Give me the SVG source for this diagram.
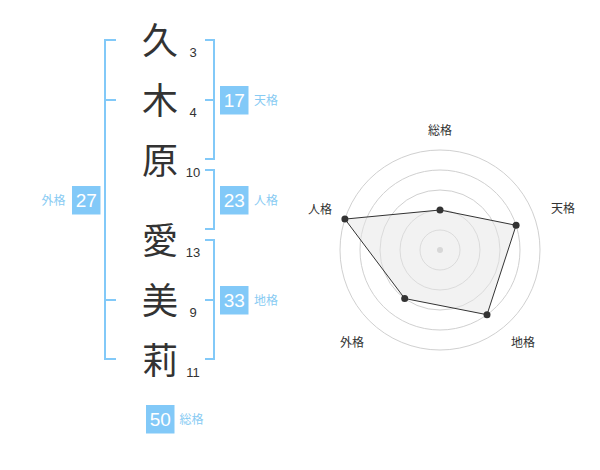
<svg xmlns="http://www.w3.org/2000/svg" width="600" height="470" viewBox="0 0 600 470">
<style>
.kj{font-family:"Noto Sans CJK JP","Noto Sans CJK SC",sans-serif;font-size:36px;fill:#333;text-anchor:middle}
.st{font-family:"Liberation Sans",Arial,sans-serif;font-size:13px;fill:#333;text-anchor:middle}
.br{fill:none;stroke:#82c9f8;stroke-width:2}
.bx{fill:#82c9f8}
.bn{font-family:"Liberation Sans",Arial,sans-serif;font-size:19px;fill:#fff;text-anchor:middle}
.bl{font-family:"Noto Sans CJK JP","Noto Sans CJK SC",sans-serif;font-size:12px;fill:#88cbf3}
.ring{fill:none;stroke:#d0d0d0;stroke-width:1}
.rl{font-family:"Noto Sans CJK JP","Noto Sans CJK SC",sans-serif;font-size:12px;fill:#333;text-anchor:middle}
.pt{fill:#333}
</style>
<rect width="600" height="470" fill="#fff"/>
<g id="chars">
<text class="kj" x="160" y="53.5">久</text>
<text class="kj" x="160" y="113.5">木</text>
<text class="kj" x="160" y="173.5">原</text>
<text class="kj" x="160" y="253.5">愛</text>
<text class="kj" x="160" y="313.5">美</text>
<text class="kj" x="160" y="373.5">莉</text>
</g>
<g id="strokes">
<text class="st" x="193" y="57">3</text>
<text class="st" x="193" y="117">4</text>
<text class="st" x="193" y="177">10</text>
<text class="st" x="193" y="257">13</text>
<text class="st" x="193" y="317">9</text>
<text class="st" x="193" y="377">11</text>
</g>
<g id="brackets">
<path class="br" d="M116,40H105V359H116M105,100H116M105,300H116"/>
<path class="br" d="M205,40H214V159H205M205,100H214"/>
<path class="br" d="M205,170H214V229H205"/>
<path class="br" d="M205,240H214V359H205M205,300H214"/>
</g>
<g id="tenkaku">
<rect class="bx" x="220" y="86" width="28.5" height="28.5"/>
<text class="bn" x="234.3" y="106.8">17</text>
<text class="bl" x="254" y="104.5">天格</text>
</g>
<g id="jinkaku">
<rect class="bx" x="220" y="186" width="28.5" height="28.5"/>
<text class="bn" x="234.3" y="206.8">23</text>
<text class="bl" x="254" y="204.5">人格</text>
</g>
<g id="chikaku">
<rect class="bx" x="220" y="286" width="28.5" height="28.5"/>
<text class="bn" x="234.3" y="306.8">33</text>
<text class="bl" x="254" y="304.5">地格</text>
</g>
<g id="gaikaku">
<rect class="bx" x="72" y="186" width="28.5" height="28.5"/>
<text class="bn" x="86.3" y="206.8">27</text>
<text class="bl" x="41.5" y="204.5">外格</text>
</g>
<g id="soukaku">
<rect class="bx" x="146" y="405" width="28.5" height="28.5"/>
<text class="bn" x="160.3" y="425.8">50</text>
<text class="bl" x="179.5" y="423.5">総格</text>
</g>
<g id="radar">
<circle class="ring" cx="440" cy="250" r="20"/>
<circle class="ring" cx="440" cy="250" r="40"/>
<circle class="ring" cx="440" cy="250" r="60"/>
<circle class="ring" cx="440" cy="250" r="80"/>
<circle class="ring" cx="440" cy="250" r="100"/>
<circle cx="440" cy="250" r="3" fill="#c8c8c8"/>
<polygon points="440,210 516.1,225.3 487,314.7 404.7,298.5 344.9,219.1" fill="#e6e6e6" fill-opacity="0.5" stroke="#333" stroke-width="1"/>
<circle class="pt" cx="440" cy="210" r="3.5"/>
<circle class="pt" cx="516.1" cy="225.3" r="3.5"/>
<circle class="pt" cx="487" cy="314.7" r="3.5"/>
<circle class="pt" cx="404.7" cy="298.5" r="3.5"/>
<circle class="pt" cx="344.9" cy="219.1" r="3.5"/>
<text class="rl" x="440" y="134.5">総格</text>
<text class="rl" x="563" y="212.5">天格</text>
<text class="rl" x="523" y="346.5">地格</text>
<text class="rl" x="352" y="346.5">外格</text>
<text class="rl" x="320" y="213.5">人格</text>
</g>
</svg>
